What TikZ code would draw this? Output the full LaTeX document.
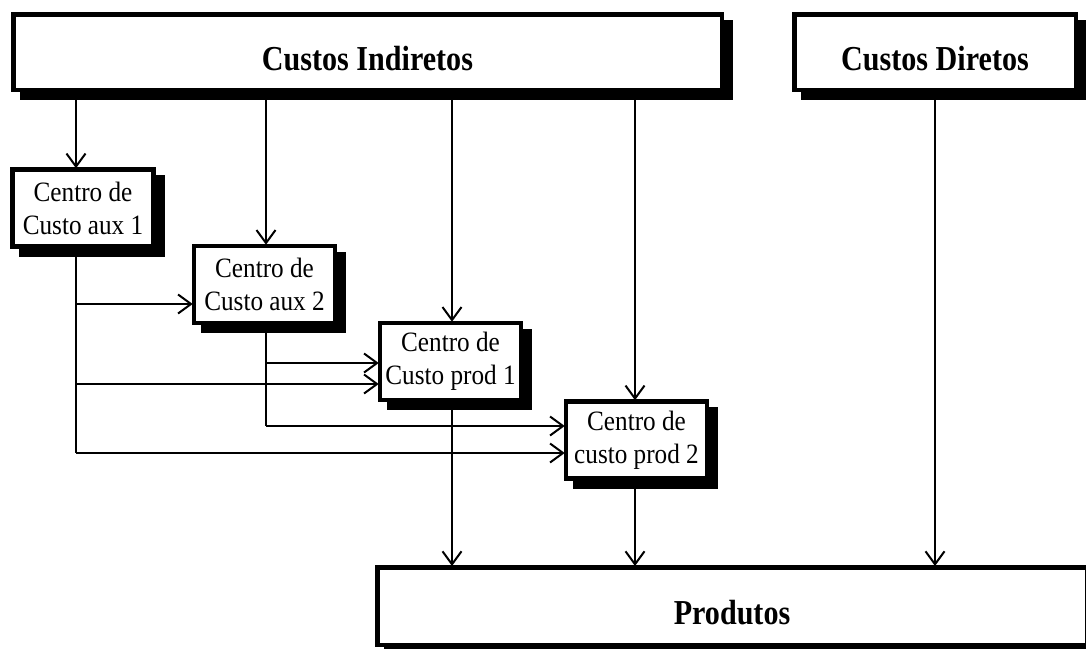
\documentclass[tikz,border=0pt]{standalone}
\usepackage{fontspec}
\setmainfont{Liberation Serif}[FakeStretch=0.86]
\newfontfamily\ccfont{Liberation Serif}[FakeStretch=0.9]
\usetikzlibrary{arrows.meta,shadows}
\begin{document}
\begin{tikzpicture}[x=1pt,y=-1pt,
  shbox/.style={rectangle, draw=black, line width=4.5pt, fill=white, inner sep=0pt,
    drop shadow={shadow xshift=9pt, shadow yshift=-8pt, fill=black, draw=black, line width=4.5pt, opacity=1}},
  bigbox/.style={shbox, font=\fontsize{35}{40}\selectfont\bfseries, text height=36pt, text depth=0pt},
  ccbox/.style={shbox, minimum width=141pt, minimum height=77pt, align=center,
    font=\ccfont\fontsize{28}{33}\selectfont},
  conn/.style={line width=2pt, draw=black},
  arr/.style={conn, -{Straight Barb[length=13pt,width=19pt,line width=2pt]}, shorten >=-1pt}
]
\useasboundingbox (0,0) rectangle (1086,648);

% boxes
\node[bigbox, minimum width=708.5pt, minimum height=75.5pt] (ci) at (367.5,52) {Custos Indiretos};
\node[bigbox, minimum width=281.5pt, minimum height=75.5pt] (cd) at (935,52) {Custos Diretos};
\node[bigbox, minimum width=709.5pt, minimum height=77.5pt] (pr) at (732,606) {Produtos};

\node[ccbox] (a1) at (83,208) {Centro de\\Custo aux 1};
\node[ccbox] (a2) at (264.5,284.5) {Centro de\\Custo aux 2};
\node[ccbox] (p1) at (450.5,361.5) {Centro de\\Custo prod 1};
\node[ccbox] (p2) at (636.5,440) {Centro de\\custo prod 2};

% reference columns and rows
\coordinate (xa) at (76,0);
\coordinate (xb) at (266,0);
\coordinate (xc) at (452,0);
\coordinate (xd) at (635,0);
\coordinate (xe) at (935,0);
\coordinate (ya) at (0,304);
\coordinate (yb) at (0,363);
\coordinate (yc) at (0,384);
\coordinate (yd) at (0,426);
\coordinate (ye) at (0,453);

% from Custos Indiretos
\draw[arr] (ci.south -| xa) -- (a1.north -| xa);
\draw[arr] (ci.south -| xb) -- (a2.north -| xb);
\draw[arr] (ci.south -| xc) -- (p1.north -| xc);
\draw[arr] (ci.south -| xd) -- (p2.north -| xd);
% from Custos Diretos
\draw[arr] (cd.south -| xe) -- (pr.north -| xe);

% from aux 1
\draw[conn] (a1.south -| xa) -- (xa |- ye);
\draw[arr] (xa |- ya) -- (a2.west |- ya);
\draw[arr] (xa |- yc) -- (p1.west |- yc);
\draw[arr] (xa |- ye) -- (p2.west |- ye);

% from aux 2
\draw[conn] (a2.south -| xb) -- (xb |- yd);
\draw[arr] (xb |- yb) -- (p1.west |- yb);
\draw[arr] (xb |- yd) -- (p2.west |- yd);

% to Produtos
\draw[arr] (p1.south -| xc) -- (pr.north -| xc);
\draw[arr] (p2.south -| xd) -- (pr.north -| xd);
\end{tikzpicture}
\end{document}
